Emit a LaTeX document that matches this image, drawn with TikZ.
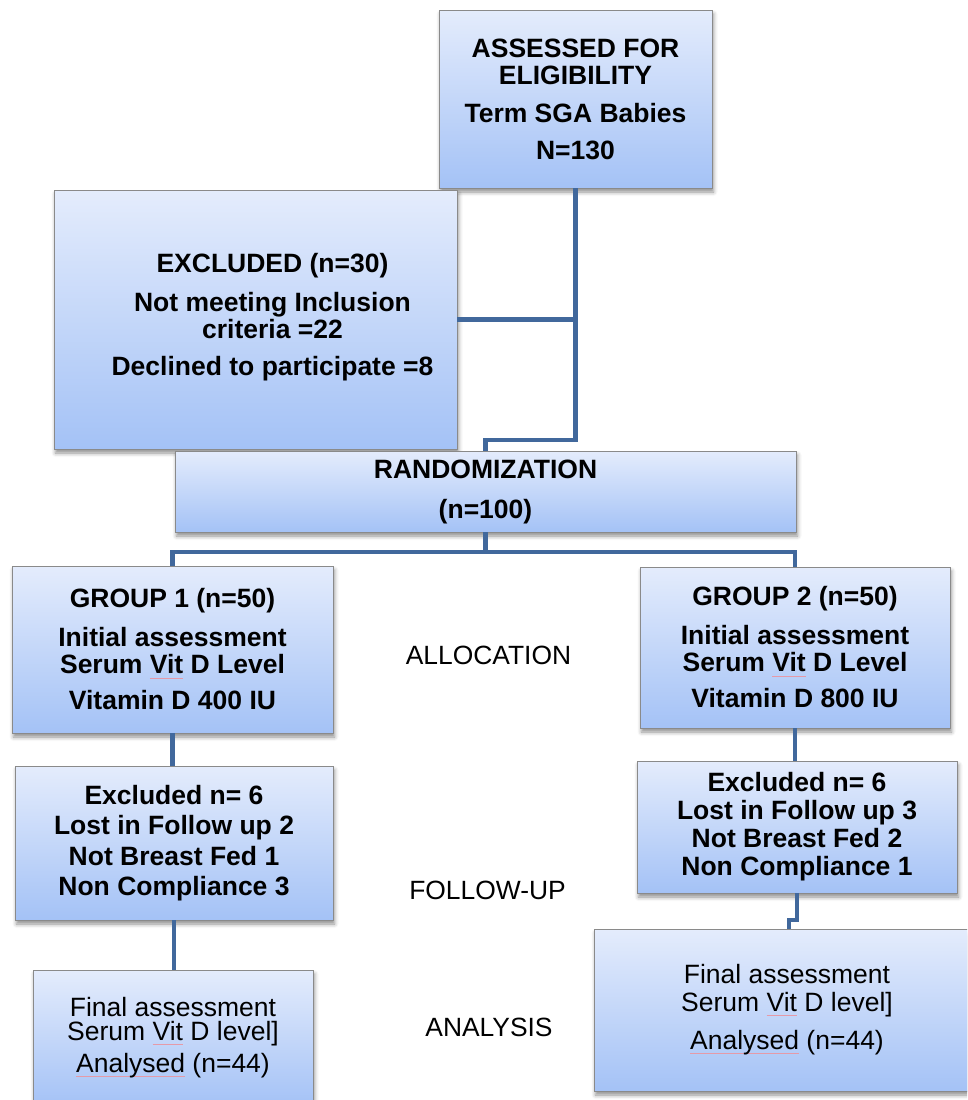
\documentclass[tikz,border=0pt]{standalone}
\usepackage{fontspec}
\setmainfont{Liberation Sans}
\usetikzlibrary{shadows.blur,calc}
\definecolor{boxtop}{HTML}{E4ECFC}
\definecolor{boxbot}{HTML}{A4C2F6}
\definecolor{conncol}{HTML}{41689C}
\definecolor{bordercol}{HTML}{8A8A8A}
\definecolor{spellred}{HTML}{E59AA8}
\newcommand{\spellmark}[1]{\leavevmode\setbox0\hbox{#1}\rlap{\color{spellred}\rule[-4.5pt]{\wd0}{0.9pt}}\box0\relax}
\newcommand{\tightlines}{\lineskiplimit=-100pt\relax}
\newcommand{\boldtext}[1]{\bfseries\fontsize{26.5}{#1}\selectfont\tightlines}
\newcommand{\plaintext}[1]{\fontsize{26.5}{#1}\selectfont\tightlines}
\tikzset{
  flowbox/.style={draw=bordercol, line width=0.9pt, top color=boxtop, bottom color=boxbot,
    align=center, inner sep=0pt,
    blur shadow={shadow xshift=1.5pt, shadow yshift=-4pt, shadow blur radius=4pt, shadow opacity=45},
    font=\boldtext{27}},
  boxtext/.style={align=center, inner sep=0pt, font=\boldtext{27}},
  conn/.style={draw=conncol, line width=4.5pt},
  stage/.style={font=\fontsize{26.4}{30}\selectfont, anchor=base, inner sep=0pt}
}
\begin{document}
\begin{tikzpicture}[x=1pt, y=-1pt]
\useasboundingbox (0,0) rectangle (967,1100);
\clip (0,0) rectangle (967,1100);

\node[flowbox, minimum width=273pt, minimum height=178pt] (top) at (575.5,99)
  {ASSESSED FOR\\ELIGIBILITY\\[11pt]Term SGA Babies\\[10pt]N=130};
\node[flowbox, minimum width=403pt, minimum height=259pt] (excl) at (255.5,319.5) {};
\node[boxtext] (excltext) at (272.5,317)
  {EXCLUDED (n=30)\\[12pt]Not meeting Inclusion\\criteria =22\\[10pt]Declined to participate =8};
\node[flowbox, minimum width=621pt, minimum height=81pt] (rand) at (485.5,491.5)
  {RANDOMIZATION\\[13pt](n=100)};
\node[flowbox, minimum width=321pt, minimum height=167pt] (g1) at (172.5,649.5)
  {GROUP 1 (n=50)\\[12pt]Initial assessment\\Serum \spellmark{Vit} D Level\\[9pt]Vitamin D 400 IU};
\node[flowbox, minimum width=310pt, minimum height=161pt] (g2) at (795,647.5)
  {GROUP 2 (n=50)\\[12pt]Initial assessment\\Serum \spellmark{Vit} D Level\\[9pt]Vitamin D 800 IU};
\node[flowbox, minimum width=318pt, minimum height=154pt, font=\boldtext{30.5}] (eg1) at (174,843)
  {Excluded n= 6\\Lost in Follow up 2\\Not Breast Fed 1\\Non Compliance 3};
\node[flowbox, minimum width=320pt, minimum height=132pt, font=\boldtext{28}] (eg2) at (797,827)
  {Excluded n= 6\\Lost in Follow up 3\\Not Breast Fed 2\\Non Compliance 1};
\node[flowbox, minimum width=280pt, minimum height=136pt, font=\plaintext{24}] (fg1) at (173,1038)
  {Final assessment\\Serum \spellmark{Vit} D level]\\[8pt]\spellmark{Analysed} (n=44)};
\node[flowbox, minimum width=386pt, minimum height=162pt, font=\plaintext{28}] (fg2) at (787,1010)
  {Final assessment\\Serum \spellmark{Vit} D level]\\[10pt]\spellmark{Analysed} (n=44)};

\node[stage] (alloc) at (488.5,664) {ALLOCATION};
\node[stage] (follow) at (487.5,899) {FOLLOW-UP};
\node[stage] (anal) at (489,1036) {ANALYSIS};

\coordinate (b1) at (485.5,440);
\coordinate (b2) at (485.5,552);
\coordinate (c1) at (789,920);

\draw[conn] (top.south) |- (b1) -- (rand.north);
\draw[conn] (excl.east) -- (excl.east -| top.south);
\draw[conn] (rand.south) -- (b2);
\draw[conn] (b2) -| (g1.north);
\draw[conn] (b2) -| (g2.north);
\draw[conn] (g1.south) -- (g1.south |- eg1.north);
\draw[conn] (g2.south) -- (g2.south |- eg2.north);
\draw[conn] (eg1.south) -- (eg1.south |- fg1.north);
\draw[conn] (eg2.south) |- (c1) -- (c1 |- fg2.north);
\end{tikzpicture}
\end{document}
